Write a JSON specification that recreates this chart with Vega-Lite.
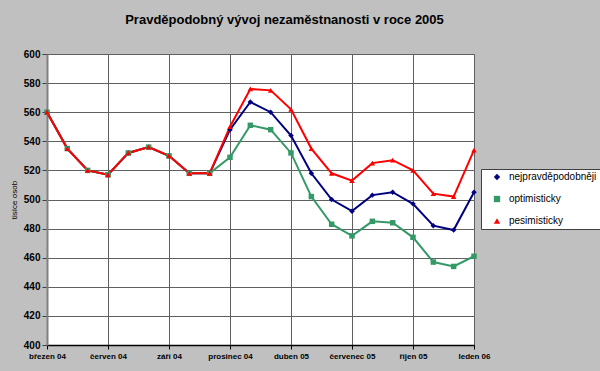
{
  "$schema": "https://vega.github.io/schema/vega-lite/v6.json",
  "width": 427,
  "height": 291,
  "autosize": {"type": "none"},
  "padding": {"left": 47, "top": 54, "right": 126, "bottom": 26},
  "background": "#c0c0c0",
  "config": {
    "font": "Liberation Sans",
    "view": {"fill": "white", "stroke": "#808080", "strokeWidth": 1}
  },
  "title": {
    "text": "Pravděpodobný vývoj nezaměstnanosti v roce 2005",
    "fontSize": 13,
    "fontWeight": "bold",
    "color": "black",
    "anchor": "middle",
    "dx": 24,
    "offset": 22
  },
  "data": {
    "values": [
      {"mesic": "březen 04", "serie": "nejpravděpodobněji", "hodnota": 560},
      {"mesic": "duben 04", "serie": "nejpravděpodobněji", "hodnota": 535},
      {"mesic": "květen 04", "serie": "nejpravděpodobněji", "hodnota": 520},
      {"mesic": "červen 04", "serie": "nejpravděpodobněji", "hodnota": 517},
      {"mesic": "červenec 04", "serie": "nejpravděpodobněji", "hodnota": 532},
      {"mesic": "srpen 04", "serie": "nejpravděpodobněji", "hodnota": 536},
      {"mesic": "září 04", "serie": "nejpravděpodobněji", "hodnota": 530},
      {"mesic": "říjen 04", "serie": "nejpravděpodobněji", "hodnota": 518},
      {"mesic": "listopad 04", "serie": "nejpravděpodobněji", "hodnota": 518},
      {"mesic": "prosinec 04", "serie": "nejpravděpodobněji", "hodnota": 548},
      {"mesic": "leden 05", "serie": "nejpravděpodobněji", "hodnota": 567},
      {"mesic": "únor 05", "serie": "nejpravděpodobněji", "hodnota": 560},
      {"mesic": "duben 05", "serie": "nejpravděpodobněji", "hodnota": 544},
      {"mesic": "květen 05", "serie": "nejpravděpodobněji", "hodnota": 518},
      {"mesic": "červen 05", "serie": "nejpravděpodobněji", "hodnota": 500},
      {"mesic": "červenec 05", "serie": "nejpravděpodobněji", "hodnota": 492},
      {"mesic": "srpen 05", "serie": "nejpravděpodobněji", "hodnota": 503},
      {"mesic": "září 05", "serie": "nejpravděpodobněji", "hodnota": 505},
      {"mesic": "říjen 05", "serie": "nejpravděpodobněji", "hodnota": 497},
      {"mesic": "listopad 05", "serie": "nejpravděpodobněji", "hodnota": 482},
      {"mesic": "prosinec 05", "serie": "nejpravděpodobněji", "hodnota": 479},
      {"mesic": "leden 06", "serie": "nejpravděpodobněji", "hodnota": 505},
      {"mesic": "březen 04", "serie": "optimisticky", "hodnota": 560},
      {"mesic": "duben 04", "serie": "optimisticky", "hodnota": 535},
      {"mesic": "květen 04", "serie": "optimisticky", "hodnota": 520},
      {"mesic": "červen 04", "serie": "optimisticky", "hodnota": 517},
      {"mesic": "červenec 04", "serie": "optimisticky", "hodnota": 532},
      {"mesic": "srpen 04", "serie": "optimisticky", "hodnota": 536},
      {"mesic": "září 04", "serie": "optimisticky", "hodnota": 530},
      {"mesic": "říjen 04", "serie": "optimisticky", "hodnota": 518},
      {"mesic": "listopad 04", "serie": "optimisticky", "hodnota": 518},
      {"mesic": "prosinec 04", "serie": "optimisticky", "hodnota": 529},
      {"mesic": "leden 05", "serie": "optimisticky", "hodnota": 551},
      {"mesic": "únor 05", "serie": "optimisticky", "hodnota": 548},
      {"mesic": "duben 05", "serie": "optimisticky", "hodnota": 532},
      {"mesic": "květen 05", "serie": "optimisticky", "hodnota": 502},
      {"mesic": "červen 05", "serie": "optimisticky", "hodnota": 483},
      {"mesic": "červenec 05", "serie": "optimisticky", "hodnota": 475},
      {"mesic": "srpen 05", "serie": "optimisticky", "hodnota": 485},
      {"mesic": "září 05", "serie": "optimisticky", "hodnota": 484},
      {"mesic": "říjen 05", "serie": "optimisticky", "hodnota": 474},
      {"mesic": "listopad 05", "serie": "optimisticky", "hodnota": 457},
      {"mesic": "prosinec 05", "serie": "optimisticky", "hodnota": 454},
      {"mesic": "leden 06", "serie": "optimisticky", "hodnota": 461},
      {"mesic": "březen 04", "serie": "pesimisticky", "hodnota": 560},
      {"mesic": "duben 04", "serie": "pesimisticky", "hodnota": 535},
      {"mesic": "květen 04", "serie": "pesimisticky", "hodnota": 520},
      {"mesic": "červen 04", "serie": "pesimisticky", "hodnota": 517},
      {"mesic": "červenec 04", "serie": "pesimisticky", "hodnota": 532},
      {"mesic": "srpen 04", "serie": "pesimisticky", "hodnota": 536},
      {"mesic": "září 04", "serie": "pesimisticky", "hodnota": 530},
      {"mesic": "říjen 04", "serie": "pesimisticky", "hodnota": 518},
      {"mesic": "listopad 04", "serie": "pesimisticky", "hodnota": 518},
      {"mesic": "prosinec 04", "serie": "pesimisticky", "hodnota": 550},
      {"mesic": "leden 05", "serie": "pesimisticky", "hodnota": 576},
      {"mesic": "únor 05", "serie": "pesimisticky", "hodnota": 575},
      {"mesic": "duben 05", "serie": "pesimisticky", "hodnota": 562},
      {"mesic": "květen 05", "serie": "pesimisticky", "hodnota": 535},
      {"mesic": "červen 05", "serie": "pesimisticky", "hodnota": 518},
      {"mesic": "červenec 05", "serie": "pesimisticky", "hodnota": 513},
      {"mesic": "srpen 05", "serie": "pesimisticky", "hodnota": 525},
      {"mesic": "září 05", "serie": "pesimisticky", "hodnota": 527},
      {"mesic": "říjen 05", "serie": "pesimisticky", "hodnota": 520},
      {"mesic": "listopad 05", "serie": "pesimisticky", "hodnota": 504},
      {"mesic": "prosinec 05", "serie": "pesimisticky", "hodnota": 502},
      {"mesic": "leden 06", "serie": "pesimisticky", "hodnota": 534}
    ]
  },
  "encoding": {
    "x": {
      "field": "mesic",
      "type": "ordinal",
      "sort": ["březen 04", "duben 04", "květen 04", "červen 04", "červenec 04", "srpen 04", "září 04", "říjen 04", "listopad 04", "prosinec 04", "leden 05", "únor 05", "duben 05", "květen 05", "červen 05", "červenec 05", "srpen 05", "září 05", "říjen 05", "listopad 05", "prosinec 05", "leden 06"],
      "scale": {"type": "point", "padding": 0},
      "axis": {
        "values": ["březen 04", "červen 04", "září 04", "prosinec 04", "duben 05", "červenec 05", "říjen 05", "leden 06"],
        "title": null,
        "labelAngle": 0,
        "labelFontSize": 8,
        "labelFontWeight": "bold",
        "labelColor": "black",
        "labelPadding": 3,
        "tickSize": 4,
        "tickColor": "black",
        "domainColor": "black",
        "domainWidth": 1.5,
        "grid": true,
        "gridColor": "#606060",
        "gridOpacity": 1
      }
    },
    "y": {
      "field": "hodnota",
      "type": "quantitative",
      "scale": {"domain": [400, 600], "nice": false, "zero": false},
      "axis": {
        "values": [400, 420, 440, 460, 480, 500, 520, 540, 560, 580, 600],
        "title": "tisíce osob",
        "titleFontSize": 8,
        "titleFontWeight": "normal",
        "titleColor": "black",
        "titlePadding": 5,
        "labelFontSize": 10,
        "labelFontWeight": "bold",
        "labelColor": "black",
        "labelPadding": 2,
        "tickSize": 5,
        "tickColor": "#404040",
        "domainColor": "#808080",
        "domainWidth": 2,
        "grid": true,
        "gridColor": "#606060",
        "gridOpacity": 1
      }
    },
    "color": {
      "field": "serie",
      "type": "nominal",
      "scale": {
        "domain": ["nejpravděpodobněji", "optimisticky", "pesimisticky"],
        "range": ["#000080", "#339966", "#ff0000"]
      },
      "legend": {
        "title": null,
        "orient": "none",
        "legendX": 434,
        "legendY": 115,
        "fillColor": "white",
        "strokeColor": "#404040",
        "padding": 3,
        "symbolSize": 40,
        "symbolOffset": 8,
        "symbolStrokeWidth": 0,
        "rowPadding": 12,
        "labelFontSize": 10,
        "labelOffset": 7,
        "labelColor": "black"
      }
    }
  },
  "layer": [
    {"mark": {"type": "line", "strokeWidth": 2}},
    {
      "mark": {"type": "point", "filled": true, "opacity": 1, "size": 30},
      "encoding": {
        "shape": {
          "field": "serie",
          "type": "nominal",
          "scale": {
            "domain": ["nejpravděpodobněji", "optimisticky", "pesimisticky"],
            "range": ["diamond", "square", "triangle-up"]
          },
          "legend": null
        }
      }
    }
  ]
}
